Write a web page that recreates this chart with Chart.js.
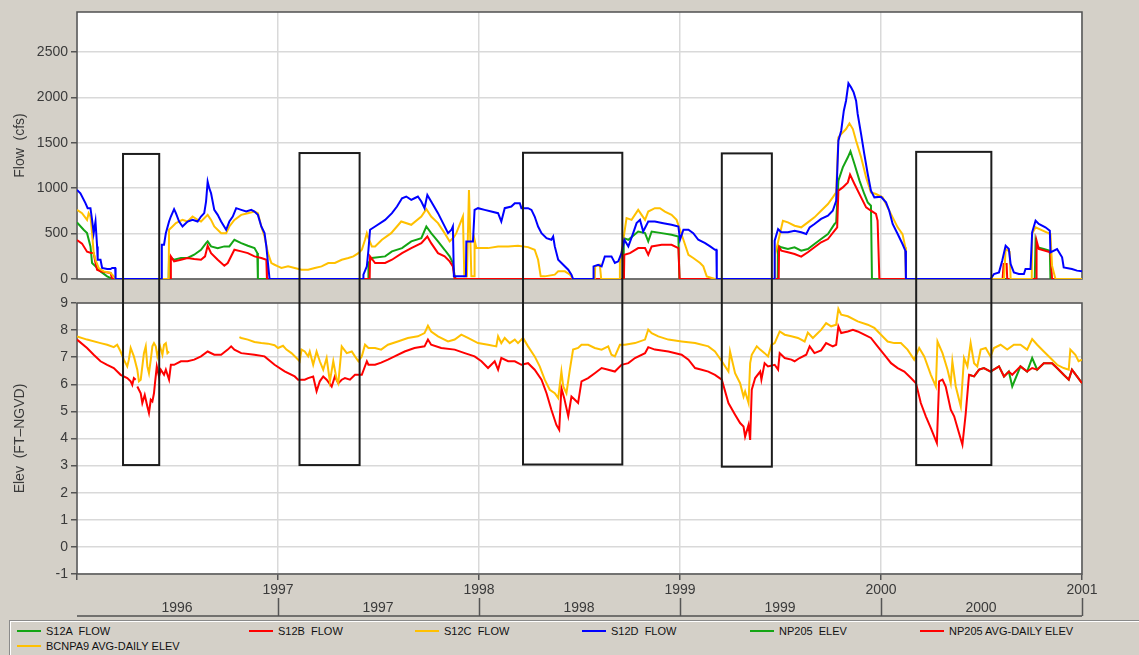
<!DOCTYPE html>
<html>
<head>
<meta charset="utf-8">
<script src="https://cdn.jsdelivr.net/npm/chart.js@4.4.1/dist/chart.umd.min.js"></script>
<style>
  html, body { margin: 0; padding: 0; background: #d4d0c8; }
  #wrap { position: relative; width: 1139px; height: 655px; overflow: hidden; }
  #flowElev { position: absolute; left: 0; top: 0; }
  #legend {
    position: absolute; left: 9px; top: 620px; width: 1130px; height: 35px;
    border-top: 1px solid #8a8a8a; border-left: 1px solid #8a8a8a;
    box-shadow: inset 1px 1px 0 #ffffff;
    font-family: 'Liberation Sans', Arial, sans-serif; font-size: 11px; color: #111;
  }
  .item { position: absolute; height: 14px; line-height: 14px; white-space: pre; }
  .swatch { position: absolute; left: 0; top: 6px; width: 24px; height: 2px; }
  .item span.txt { position: absolute; left: 29px; top: 0; }
</style>
</head>
<body>
<div id="wrap">
  <canvas id="flowElev" width="1139" height="620"></canvas>
  <div id="legend"></div>
</div>
<script>
// ---- data, x = decimal year ----
const S12A_FLOW = [
  [1996.000,622],[1996.033,542],[1996.050,505],[1996.067,359],[1996.075,176],[1996.092,139],[1996.117,84],[1996.150,29],[1996.175,0],
  [1996.456,0],[1996.458,249],[1996.483,212],[1996.517,231],[1996.550,231],[1996.583,267],[1996.617,322],[1996.642,395],[1996.650,414],[1996.667,359],[1996.700,340],[1996.733,359],[1996.758,359],[1996.783,432],[1996.817,395],[1996.850,366],[1996.883,340],[1996.897,285],[1996.900,0],
  [1997.448,0],[1997.450,176],[1997.467,231],[1997.533,249],[1997.567,304],[1997.617,340],[1997.663,414],[1997.713,450],[1997.738,578],[1997.762,505],[1997.796,414],[1997.829,322],[1997.854,249],[1997.870,176],[1997.879,29],[1997.885,0],
  [1998.718,0],[1998.720,450],[1998.743,432],[1998.792,523],[1998.826,505],[1998.842,414],[1998.859,523],[1998.909,505],[1998.958,487],[1998.992,468],[1998.997,0],
  [1999.486,0],[1999.488,367],[1999.504,349],[1999.537,330],[1999.570,349],[1999.603,312],[1999.636,330],[1999.669,385],[1999.702,440],[1999.736,495],[1999.769,606],[1999.777,624],[1999.788,1083],[1999.810,1229],[1999.835,1340],[1999.848,1406],[1999.868,1266],[1999.893,1083],[1999.917,936],[1999.934,844],[1999.950,807],[1999.955,0],
  [2000.765,0],[2000.769,422],[2000.777,349],[2000.810,330],[2000.840,312],[2000.843,0],[2001.000,0]
];
const S12B_FLOW = [
  [1996.000,430],[1996.025,390],[1996.050,300],[1996.067,290],[1996.083,285],[1996.092,176],[1996.100,102],[1996.117,84],[1996.167,66],[1996.175,0],
  [1996.465,0],[1996.467,249],[1996.483,194],[1996.517,212],[1996.550,231],[1996.583,220],[1996.617,212],[1996.637,249],[1996.650,366],[1996.667,285],[1996.700,212],[1996.733,146],[1996.750,176],[1996.783,322],[1996.817,304],[1996.850,285],[1996.883,249],[1996.917,231],[1996.942,212],[1996.945,0],
  [1997.456,0],[1997.458,249],[1997.483,176],[1997.533,176],[1997.567,212],[1997.617,285],[1997.663,340],[1997.713,395],[1997.743,468],[1997.762,395],[1997.796,285],[1997.829,249],[1997.854,194],[1997.870,139],[1997.879,0],
  [1998.721,0],[1998.723,267],[1998.751,285],[1998.792,340],[1998.826,340],[1998.842,267],[1998.859,359],[1998.909,377],[1998.958,377],[1998.992,340],[1998.998,0],
  [1999.491,0],[1999.493,349],[1999.504,312],[1999.537,294],[1999.570,275],[1999.603,246],[1999.636,294],[1999.669,349],[1999.702,404],[1999.736,440],[1999.769,532],[1999.782,569],[1999.788,973],[1999.810,1009],[1999.835,1064],[1999.846,1149],[1999.868,1046],[1999.901,899],[1999.926,789],[1999.950,752],[1999.975,716],[1999.983,642],[1999.992,0],
  [2000.605,0],[2000.610,165],[2000.625,165],[2000.628,0],
  [2000.772,0],[2000.774,422],[2000.785,330],[2000.843,294],[2000.851,0],[2001.000,0]
];
const S12C_FLOW = [
  [1996.000,761],[1996.025,725],[1996.050,651],[1996.058,725],[1996.067,688],[1996.075,505],[1996.083,285],[1996.092,212],[1996.108,121],[1996.133,84],[1996.167,66],[1996.183,29],[1996.192,0],
  [1996.456,0],[1996.458,542],[1996.475,578],[1996.492,615],[1996.525,651],[1996.550,633],[1996.575,688],[1996.600,651],[1996.617,633],[1996.650,706],[1996.667,651],[1996.683,578],[1996.717,505],[1996.742,505],[1996.758,578],[1996.783,651],[1996.817,706],[1996.850,725],[1996.883,743],[1996.900,725],[1996.917,578],[1996.933,468],[1996.950,285],[1996.967,176],[1996.983,157],
  [1997.000,139],[1997.017,121],[1997.050,139],[1997.083,121],[1997.117,102],[1997.150,102],[1997.183,121],[1997.217,139],[1997.250,176],[1997.283,176],[1997.317,212],[1997.350,231],[1997.375,249],[1997.400,285],[1997.417,322],[1997.433,432],[1997.442,505],[1997.450,450],[1997.467,359],[1997.483,359],[1997.517,432],[1997.563,505],[1997.613,633],[1997.663,597],[1997.713,688],[1997.738,769],[1997.762,688],[1997.796,615],[1997.829,505],[1997.854,414],[1997.875,460],[1997.887,505],[1997.920,688],[1997.927,29],[1997.940,29],[1997.950,981],[1997.962,29],[1997.976,29],[1997.978,432],[1997.987,340],
  [1998.045,340],[1998.095,359],[1998.145,359],[1998.194,366],[1998.244,351],[1998.277,322],[1998.294,212],[1998.307,29],[1998.327,29],[1998.377,48],[1998.394,84],[1998.427,84],[1998.453,48],[1998.468,0],
  [1998.576,0],[1998.578,139],[1998.601,157],[1998.608,0],[1998.699,0],[1998.701,176],[1998.734,670],[1998.759,651],[1998.792,761],[1998.826,651],[1998.842,743],[1998.875,780],[1998.900,780],[1998.925,743],[1998.958,706],[1998.983,651],
  [1999.000,542],[1999.017,432],[1999.042,267],[1999.066,231],[1999.100,176],[1999.116,139],[1999.133,29],[1999.174,0],
  [1999.472,0],[1999.474,275],[1999.512,642],[1999.537,624],[1999.570,587],[1999.603,569],[1999.636,624],[1999.669,679],[1999.702,752],[1999.736,826],[1999.760,899],[1999.777,954],[1999.788,1560],[1999.802,1596],[1999.826,1651],[1999.843,1714],[1999.860,1651],[1999.876,1523],[1999.901,1340],[1999.926,1119],[1999.950,954],[1999.975,936],
  [2000.008,899],[2000.033,789],[2000.058,679],[2000.083,569],[2000.107,495],[2000.121,349],[2000.124,0],
  [2000.612,0],[2000.620,330],[2000.640,300],[2000.645,0],
  [2000.750,0],[2000.752,500],[2000.769,569],[2000.843,495],[2000.851,147],[2000.868,0],[2001.000,0]
];
const S12D_FLOW = [
  [1996.000,981],[1996.017,944],[1996.042,835],[1996.053,780],[1996.067,780],[1996.075,651],[1996.083,505],[1996.092,633],[1996.100,359],[1996.103,212],[1996.117,212],[1996.125,121],[1996.150,110],[1996.167,110],[1996.175,121],[1996.190,121],[1996.192,0],
  [1996.420,0],[1996.422,377],[1996.433,377],[1996.442,505],[1996.458,633],[1996.467,688],[1996.483,769],[1996.492,725],[1996.508,633],[1996.525,578],[1996.550,633],[1996.575,651],[1996.600,633],[1996.617,688],[1996.633,725],[1996.642,853],[1996.650,1072],[1996.658,1000],[1996.667,944],[1996.683,761],[1996.700,706],[1996.717,633],[1996.742,542],[1996.758,633],[1996.775,688],[1996.792,780],[1996.817,761],[1996.842,743],[1996.867,761],[1996.883,743],[1996.900,706],[1996.917,578],[1996.925,542],[1996.933,505],[1996.942,359],[1996.950,176],[1996.958,0],
  [1997.423,0],[1997.425,48],[1997.442,139],[1997.450,322],[1997.458,542],[1997.483,578],[1997.533,651],[1997.567,725],[1997.592,798],[1997.617,889],[1997.638,908],[1997.663,871],[1997.679,889],[1997.696,908],[1997.713,853],[1997.729,780],[1997.743,926],[1997.762,853],[1997.796,725],[1997.821,615],[1997.846,505],[1997.863,542],[1997.870,578],[1997.875,29],[1997.935,29],[1997.937,414],[1997.970,414],[1997.978,761],[1997.995,780],
  [1998.028,761],[1998.061,743],[1998.095,725],[1998.111,633],[1998.128,780],[1998.161,798],[1998.178,834],[1998.203,834],[1998.211,780],[1998.244,780],[1998.261,761],[1998.277,688],[1998.294,578],[1998.311,505],[1998.336,450],[1998.360,432],[1998.369,468],[1998.377,359],[1998.394,212],[1998.419,157],[1998.444,102],[1998.460,48],[1998.468,0],
  [1998.568,0],[1998.570,139],[1998.593,157],[1998.610,139],[1998.626,249],[1998.659,249],[1998.676,176],[1998.693,194],[1998.709,285],[1998.723,432],[1998.743,359],[1998.767,505],[1998.784,615],[1998.801,651],[1998.817,523],[1998.842,633],[1998.875,633],[1998.917,615],[1998.958,597],[1998.992,578],
  [1999.000,432],[1999.017,542],[1999.042,542],[1999.066,505],[1999.091,432],[1999.125,395],[1999.150,359],[1999.174,322],[1999.181,322],[1999.183,0],
  [1999.469,0],[1999.471,422],[1999.488,550],[1999.504,514],[1999.537,514],[1999.570,532],[1999.603,514],[1999.628,495],[1999.645,569],[1999.669,606],[1999.702,661],[1999.736,697],[1999.760,752],[1999.777,862],[1999.788,1523],[1999.802,1633],[1999.815,1853],[1999.826,1963],[1999.838,2154],[1999.851,2110],[1999.864,2055],[1999.876,1963],[1999.884,1817],[1999.901,1596],[1999.917,1376],[1999.934,1156],[1999.950,973],[1999.967,899],
  [2000.000,906],[2000.025,844],[2000.041,752],[2000.058,606],[2000.083,495],[2000.107,385],[2000.121,312],[2000.124,0],
  [2000.545,0],[2000.562,55],[2000.587,73],[2000.603,202],[2000.620,367],[2000.636,330],[2000.645,165],[2000.661,73],[2000.686,55],[2000.711,55],[2000.719,110],[2000.744,110],[2000.752,514],[2000.769,642],[2000.785,606],[2000.818,569],[2000.840,532],[2000.843,294],[2000.876,330],[2000.901,239],[2000.909,128],[2000.950,110],[2000.975,92],[2001.000,84]
];
// NP205 ELEV only shows where it departs from the daily average (late 2000)
const NP205_ELEV = [
  [2000.438,6.35],[2000.463,6.29],[2000.488,6.54],[2000.512,6.60],[2000.545,6.47],[2000.587,6.66],[2000.612,6.29],[2000.636,6.47],[2000.653,5.92],[2000.694,6.66],[2000.727,6.47],[2000.752,6.97],[2000.777,6.54],[2000.810,6.78],[2000.851,6.78],[2000.876,6.60],[2000.909,6.35],[2000.934,6.17],[2000.950,6.54],[2000.975,6.29],[2001.000,6.04]
];
const NP205_AVG = [
  [1996.000,7.65],[1996.050,7.34],[1996.083,7.09],[1996.117,6.85],[1996.150,6.72],[1996.183,6.60],[1996.217,6.35],[1996.250,6.23],[1996.267,6.11],[1996.275,5.98],[1996.283,6.23],[1996.292,6.17],[1996.293,null],
  [1996.300,5.92],[1996.317,5.67],[1996.325,5.31],[1996.337,5.61],[1996.350,5.18],[1996.358,4.94],[1996.367,5.43],[1996.375,5.37],[1996.383,5.67],[1996.388,6.04],[1996.397,6.66],[1996.408,6.29],[1996.417,6.54],[1996.433,6.35],[1996.442,6.54],[1996.458,6.17],[1996.467,6.72],[1996.483,6.72],[1996.517,6.85],[1996.550,6.85],[1996.583,6.91],[1996.617,7.03],[1996.650,7.21],[1996.683,7.09],[1996.717,7.09],[1996.750,7.28],[1996.767,7.40],[1996.783,7.28],[1996.817,7.15],[1996.883,7.09],[1996.933,7.03],[1996.983,6.72],
  [1997.033,6.48],[1997.083,6.29],[1997.100,6.17],[1997.133,6.17],[1997.150,6.23],[1997.175,6.29],[1997.192,5.74],[1997.208,6.11],[1997.225,6.29],[1997.242,6.17],[1997.267,5.92],[1997.283,6.29],[1997.300,6.04],[1997.317,6.17],[1997.333,6.23],[1997.358,6.17],[1997.383,6.35],[1997.417,6.35],[1997.442,6.85],[1997.450,6.72],[1997.483,6.72],
  [1997.513,6.80],[1997.547,6.91],[1997.580,7.03],[1997.630,7.21],[1997.679,7.34],[1997.729,7.40],[1997.746,7.65],[1997.762,7.46],[1997.812,7.34],[1997.879,7.28],[1997.929,7.15],[1997.978,7.03],
  [1998.012,6.85],[1998.045,6.60],[1998.078,6.85],[1998.095,6.54],[1998.111,6.97],[1998.145,6.85],[1998.178,6.85],[1998.211,6.72],[1998.244,6.78],[1998.277,6.54],[1998.311,6.17],[1998.336,5.67],[1998.360,5.06],[1998.385,4.50],[1998.399,4.32],[1998.410,5.86],[1998.424,5.49],[1998.444,4.82],[1998.460,5.55],[1998.477,5.43],[1998.493,5.31],[1998.510,6.11],[1998.543,6.23],[1998.576,6.41],[1998.610,6.60],[1998.643,6.54],[1998.676,6.47],[1998.709,6.72],[1998.743,6.78],[1998.776,6.97],[1998.826,7.15],[1998.842,7.37],[1998.875,7.28],[1998.942,7.21],
  [1999.008,7.09],[1999.042,6.91],[1999.075,6.60],[1999.108,6.54],[1999.141,6.47],[1999.174,6.35],[1999.208,6.17],[1999.241,5.31],[1999.274,4.88],[1999.299,4.57],[1999.316,4.44],[1999.324,4.07],[1999.341,4.50],[1999.349,3.95],[1999.357,5.80],[1999.374,6.23],[1999.399,6.47],
  [1999.405,6.17],[1999.421,6.78],[1999.438,6.66],[1999.471,6.72],[1999.488,6.54],[1999.496,7.15],[1999.521,6.97],[1999.554,6.91],[1999.570,6.85],[1999.595,6.97],[1999.628,7.09],[1999.645,7.40],[1999.669,7.15],[1999.702,7.25],[1999.727,7.52],[1999.760,7.40],[1999.777,7.46],[1999.788,8.14],[1999.802,7.89],[1999.835,7.95],[1999.860,8.01],[1999.884,7.95],[1999.917,7.83],[1999.950,7.71],[1999.983,7.40],
  [2000.017,7.09],[2000.050,6.78],[2000.083,6.60],[2000.116,6.47],[2000.149,6.23],[2000.174,6.04],[2000.198,5.31],[2000.223,4.82],[2000.248,4.38],[2000.278,3.83],[2000.289,6.11],[2000.306,6.17],[2000.322,5.92],[2000.347,5.06],[2000.364,4.82],[2000.388,4.20],[2000.405,3.77],[2000.421,4.88],[2000.438,6.35],[2000.463,6.29],[2000.488,6.54],[2000.512,6.60],[2000.545,6.47],[2000.587,6.66],[2000.612,6.29],[2000.636,6.47],[2000.653,6.35],[2000.694,6.66],[2000.727,6.47],[2000.752,6.60],[2000.777,6.54],[2000.810,6.78],[2000.851,6.78],[2000.876,6.60],[2000.909,6.35],[2000.934,6.17],[2000.950,6.54],[2000.975,6.29],[2001.000,6.04]
];
const BCNPA9_AVG = [
  [1996.000,7.77],[1996.050,7.65],[1996.117,7.52],[1996.150,7.46],[1996.183,7.37],[1996.200,7.46],[1996.217,7.21],[1996.233,6.91],[1996.250,6.66],[1996.258,6.91],[1996.267,7.34],[1996.283,7.03],[1996.300,6.54],[1996.308,6.11],[1996.317,6.17],[1996.333,7.15],[1996.342,7.40],[1996.350,6.66],[1996.358,6.41],[1996.367,6.91],[1996.375,7.40],[1996.383,7.52],[1996.392,7.40],[1996.400,7.03],[1996.413,7.40],[1996.425,7.09],[1996.433,7.46],[1996.442,7.52],[1996.450,7.15],[1996.458,7.21],[1996.460,null],
  [1996.808,7.74],[1996.817,7.71],[1996.850,7.65],[1996.883,7.56],[1996.917,7.52],[1996.950,7.50],[1996.983,7.44],[1997.000,7.34],[1997.025,7.42],[1997.042,7.28],[1997.067,7.15],[1997.092,6.97],[1997.108,6.85],[1997.117,7.28],[1997.133,7.21],[1997.150,7.03],[1997.158,7.21],[1997.175,6.72],[1997.192,7.21],[1997.208,6.85],[1997.225,6.54],[1997.242,6.97],[1997.258,6.11],[1997.275,6.85],[1997.292,6.17],[1997.300,6.04],[1997.317,7.40],[1997.342,7.15],[1997.367,7.21],[1997.383,7.03],[1997.400,6.85],[1997.417,7.03],[1997.433,7.46],[1997.450,7.34],[1997.483,7.34],
  [1997.513,7.28],[1997.547,7.46],[1997.596,7.58],[1997.646,7.71],[1997.696,7.77],[1997.729,7.89],[1997.746,8.16],[1997.762,7.95],[1997.796,7.77],[1997.846,7.58],[1997.879,7.65],[1997.912,7.83],[1997.945,7.71],[1997.995,7.52],
  [1998.045,7.46],[1998.086,7.40],[1998.095,7.77],[1998.111,7.52],[1998.128,7.71],[1998.153,7.52],[1998.178,7.65],[1998.194,7.52],[1998.219,7.71],[1998.244,7.40],[1998.277,7.03],[1998.302,6.66],[1998.327,6.17],[1998.352,5.80],[1998.377,5.67],[1998.394,5.49],[1998.410,6.47],[1998.419,5.92],[1998.427,5.80],[1998.435,5.67],[1998.452,6.54],[1998.468,7.28],[1998.493,7.34],[1998.510,7.46],[1998.543,7.46],[1998.576,7.34],[1998.610,7.28],[1998.643,7.40],[1998.659,7.09],[1998.676,7.03],[1998.701,7.46],[1998.726,7.46],[1998.776,7.52],[1998.826,7.65],[1998.842,8.02],[1998.859,7.89],[1998.892,7.77],[1998.942,7.65],
  [1999.008,7.58],[1999.075,7.52],[1999.141,7.40],[1999.174,7.21],[1999.208,6.85],[1999.241,6.47],[1999.249,7.21],[1999.274,6.41],[1999.299,6.04],[1999.316,5.55],[1999.324,5.74],[1999.341,5.31],[1999.349,6.78],[1999.357,7.09],[1999.382,7.40],[1999.399,7.28],
  [1999.421,7.15],[1999.438,7.03],[1999.455,7.46],[1999.471,7.52],[1999.496,7.95],[1999.521,7.83],[1999.554,7.77],[1999.587,7.71],[1999.620,7.58],[1999.636,7.91],[1999.661,7.71],[1999.686,7.89],[1999.702,8.01],[1999.727,8.26],[1999.752,8.14],[1999.777,8.20],[1999.788,8.78],[1999.802,8.57],[1999.835,8.51],[1999.884,8.32],[1999.934,8.20],[1999.967,8.08],
  [2000.000,7.83],[2000.033,7.58],[2000.066,7.52],[2000.099,7.52],[2000.132,7.28],[2000.165,6.91],[2000.190,7.34],[2000.215,7.03],[2000.248,6.35],[2000.273,5.92],[2000.281,7.58],[2000.306,7.15],[2000.331,6.54],[2000.347,6.04],[2000.355,6.85],[2000.372,5.92],[2000.397,5.18],[2000.413,6.97],[2000.430,6.66],[2000.446,7.52],[2000.463,6.78],[2000.479,6.66],[2000.496,7.28],[2000.521,7.34],[2000.545,7.03],[2000.562,7.34],[2000.595,7.46],[2000.628,7.28],[2000.661,7.46],[2000.694,7.46],[2000.727,7.28],[2000.752,7.67],[2000.777,7.46],[2000.810,7.21],[2000.843,6.97],[2000.876,6.72],[2000.909,6.60],[2000.934,6.54],[2000.942,7.28],[2000.967,7.09],[2000.983,6.85],[2001.000,6.91]
];

// highlighted low-water windows (start/end year, flow top, elev bottom)
const BOX_START  = [1996.229, 1997.107, 1998.219, 1999.208, 2000.175];
const BOX_END    = [1996.409, 1997.406, 1998.713, 1999.457, 2000.549];
const BOX_TOP    = [1377, 1387, 1390, 1383, 1400];
const BOX_BOTTOM = [3.02, 3.02, 3.04, 2.96, 3.02];

const YEAR_TICKS = [1996, 1997, 1998, 1999, 2000, 2001];
const FLOW_TICKS = [0, 500, 1000, 1500, 2000, 2500];
const ELEV_TICKS = [-1, 0, 1, 2, 3, 4, 5, 6, 7, 8, 9];

const PAGE_BG = '#d4d0c8';
const GREEN = '#14a514', RED = '#ff0000', GOLD = '#ffc000', BLUE = '#0000ff';

const toXY = arr => arr.map(p => ({ x: p[0], y: p[1] }));

const series = [
  { label: 'S12A  FLOW',            data: S12A_FLOW,  color: GREEN, axis: 'yFlow', order: 4 },
  { label: 'S12B  FLOW',            data: S12B_FLOW,  color: RED,   axis: 'yFlow', order: 3 },
  { label: 'S12C  FLOW',            data: S12C_FLOW,  color: GOLD,  axis: 'yFlow', order: 2 },
  { label: 'S12D  FLOW',            data: S12D_FLOW,  color: BLUE,  axis: 'yFlow', order: 1 },
  { label: 'NP205  ELEV',           data: NP205_ELEV, color: GREEN, axis: 'yElev', order: 7 },
  { label: 'NP205 AVG-DAILY ELEV',  data: NP205_AVG,  color: RED,   axis: 'yElev', order: 6 },
  { label: 'BCNPA9 AVG-DAILY ELEV', data: BCNPA9_AVG, color: GOLD,  axis: 'yElev', order: 5 }
];

const datasets = series.map(s => ({
  label: s.label,
  data: toXY(s.data),
  yAxisID: s.axis,
  xAxisID: 'x',
  borderColor: s.color,
  backgroundColor: s.color,
  borderWidth: 2,
  pointRadius: 0,
  tension: 0,
  spanGaps: false,
  order: s.order
}));

// page furniture: white panels, grey gap, frames, rule, boxes
const panelPlugin = {
  id: 'panels',
  beforeDraw(chart) {
    const { ctx, chartArea, scales } = chart;
    ctx.save();
    ctx.fillStyle = '#ffffff';
    [scales.yFlow, scales.yElev].forEach(s => ctx.fillRect(chartArea.left, s.top, chartArea.width, s.height));
    ctx.restore();
  },
  beforeDatasetsDraw(chart) {
    const { ctx, chartArea, scales } = chart;
    const g = scales.yGap;
    ctx.save();
    ctx.fillStyle = PAGE_BG;
    ctx.fillRect(chartArea.left - 1, g.top, chartArea.width + 2, g.height);
    ctx.strokeStyle = '#505050';
    ctx.lineWidth = 1.5;
    [scales.yFlow, scales.yElev].forEach(s => ctx.strokeRect(chartArea.left, s.top, chartArea.width, s.height));
    ctx.beginPath();
    ctx.moveTo(chartArea.left, scales.x2.bottom);
    ctx.lineTo(chartArea.right, scales.x2.bottom);
    ctx.stroke();
    ctx.restore();
  },
  afterDatasetsDraw(chart) {
    const { ctx, scales: { x, yFlow, yElev } } = chart;
    ctx.save();
    ctx.strokeStyle = '#1c1c1c';
    ctx.lineWidth = 2;
    BOX_START.forEach((s, i) => {
      const l = x.getPixelForValue(s), r = x.getPixelForValue(BOX_END[i]);
      const t = yFlow.getPixelForValue(BOX_TOP[i]), b = yElev.getPixelForValue(BOX_BOTTOM[i]);
      ctx.strokeRect(l, t, r - l, b - t);
    });
    ctx.restore();
  }
};

Chart.defaults.font.family = "'Liberation Sans', Arial, sans-serif";
Chart.defaults.font.size = 14;
Chart.defaults.color = '#3a3a3a';

const gridCol = '#d9d9d9';
const tickCol = '#555555';

new Chart(document.getElementById('flowElev'), {
  type: 'line',
  data: { datasets },
  options: {
    responsive: false,
    animation: false,
    events: [],
    layout: { padding: { top: 12, left: 8, right: 57, bottom: 4 } },
    plugins: { legend: { display: false }, tooltip: { enabled: false } },
    scales: {
      x: {
        type: 'linear', position: 'bottom', min: 1996, max: 2001,
        afterBuildTicks: s => { s.ticks = YEAR_TICKS.map(v => ({ value: v })); },
        ticks: { autoSkip: false, maxRotation: 0, padding: 2, callback: v => v === 1996 ? '' : String(v) },
        grid: { color: gridCol, lineWidth: 1.5, tickColor: tickCol, tickLength: 6, tickWidth: 1.5 },
        border: { display: false },
        afterFit: s => { s.height = 24; }
      },
      x2: {
        type: 'linear', position: 'bottom', min: 1996, max: 2001,
        afterBuildTicks: s => { s.ticks = YEAR_TICKS.map(v => ({ value: v })); },
        ticks: { autoSkip: false, maxRotation: 0, padding: -16, labelOffset: 100,
                 callback: v => v === 2001 ? '' : String(v) },
        grid: { drawOnChartArea: false, tickLength: 18, tickWidth: 1.5,
                tickColor: c => c.tick && c.tick.value === 1996 ? 'rgba(0,0,0,0)' : tickCol },
        border: { display: false },
        afterFit: s => { s.height = 18; }
      },
      yFlow: {
        type: 'linear', position: 'left', stack: 'panels', stackWeight: 267, weight: 3,
        min: 0, max: 2940,
        afterBuildTicks: s => { s.ticks = FLOW_TICKS.map(v => ({ value: v })); },
        ticks: { autoSkip: false, padding: 3, callback: v => String(v) },
        grid: { color: gridCol, lineWidth: 1.5, tickColor: tickCol, tickLength: 6 },
        border: { display: false },
        title: { display: true, text: 'Flow  (cfs)', font: { size: 14 }, padding: { top: 4, bottom: 4 } },
        afterFit: s => { s.width = 69; }
      },
      yGap: {
        type: 'linear', position: 'left', stack: 'panels', stackWeight: 24, weight: 2,
        min: 0, max: 1,
        ticks: { display: false },
        grid: { display: false },
        border: { display: false },
        afterFit: s => { s.width = 69; }
      },
      yElev: {
        type: 'linear', position: 'left', stack: 'panels', stackWeight: 271, weight: 1,
        min: -1, max: 9,
        afterBuildTicks: s => { s.ticks = ELEV_TICKS.map(v => ({ value: v })); },
        ticks: { autoSkip: false, padding: 3, callback: v => String(v) },
        grid: { color: gridCol, lineWidth: 1.5, tickColor: tickCol, tickLength: 6 },
        border: { display: false },
        title: { display: true, text: 'Elev  (FT–NGVD)', font: { size: 14 }, padding: { top: 4, bottom: 4 } },
        afterFit: s => { s.width = 69; }
      }
    }
  },
  plugins: [panelPlugin]
});

// legend, laid out in the fixed columns of the original
const LEGEND_SLOTS = [[16, 3], [248, 3], [414, 3], [581, 3], [749, 3], [919, 3], [16, 18]];
const legendEl = document.getElementById('legend');
series.forEach((s, i) => {
  const item = document.createElement('div');
  item.className = 'item';
  item.style.left = (LEGEND_SLOTS[i][0] - 9) + 'px';
  item.style.top = LEGEND_SLOTS[i][1] + 'px';
  const sw = document.createElement('div');
  sw.className = 'swatch';
  sw.style.background = s.color;
  const tx = document.createElement('span');
  tx.className = 'txt';
  tx.textContent = s.label;
  item.appendChild(sw);
  item.appendChild(tx);
  legendEl.appendChild(item);
});
</script>
</body>
</html>
